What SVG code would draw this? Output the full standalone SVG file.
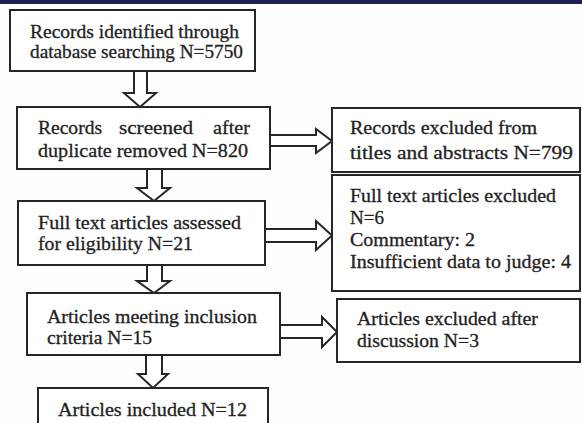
<svg xmlns="http://www.w3.org/2000/svg" width="582" height="423" viewBox="0 0 582 423">
<style>
.box{fill:#fff;stroke:#262626;stroke-width:2}
.arr{fill:#fff;stroke:#262626;stroke-width:2;stroke-linejoin:miter}
</style>
<rect x="0" y="0" width="582" height="423" fill="#fdfdfd"/>
<rect x="0" y="0" width="582" height="4" fill="#1c2150"/>
<g id="connectors">
<polygon class="arr" points="134,71 134,93 124,93 140,107 156,93 147,93 147,71"/>
<polygon class="arr" points="147,169 147,188 137,188 154,201 170,188 162,188 162,169"/>
<polygon class="arr" points="147,265 147,281 137,281 154,293 170,281 162,281 162,265"/>
<polygon class="arr" points="146,355 146,374 138,374 153,388 168,374 162,374 162,355"/>
<polygon class="arr" points="270,135 316,135 316,129 332,141 316,153 316,146 270,146"/>
<polygon class="arr" points="265,229 316,229 316,221 332,235.5 316,250 316,242 265,242"/>
<polygon class="arr" points="280,325 322,325 322,317 337,332 322,347 322,338 280,338"/>
</g>
<g font-family="Liberation Serif" font-size="19" fill="#222" stroke="#222" stroke-width="0.3">
<g id="n1">
<rect class="box" x="10" y="10" width="245" height="61"/>
<text x="30" y="38" textLength="209" lengthAdjust="spacingAndGlyphs">Records identified through</text>
<text x="30" y="58" textLength="213" lengthAdjust="spacingAndGlyphs">database searching N=5750</text>
</g>
<g id="n2">
<rect class="box" x="17" y="107" width="253" height="62"/>
<text x="38" y="134" textLength="64" lengthAdjust="spacingAndGlyphs">Records</text>
<text x="119" y="134" textLength="74" lengthAdjust="spacingAndGlyphs">screened</text>
<text x="213" y="134" textLength="37" lengthAdjust="spacingAndGlyphs">after</text>
<text x="38" y="157" textLength="210" lengthAdjust="spacingAndGlyphs">duplicate removed N=820</text>
</g>
<g id="n3">
<rect class="box" x="18" y="201" width="247" height="64"/>
<text x="38" y="229" textLength="203" lengthAdjust="spacingAndGlyphs">Full text articles assessed</text>
<text x="38" y="250" textLength="155" lengthAdjust="spacingAndGlyphs">for eligibility N=21</text>
</g>
<g id="n4">
<rect class="box" x="27" y="293" width="253" height="62"/>
<text x="47" y="323" textLength="210" lengthAdjust="spacingAndGlyphs">Articles meeting inclusion</text>
<text x="47" y="344" textLength="105" lengthAdjust="spacingAndGlyphs">criteria N=15</text>
</g>
<g id="n5">
<rect class="box" x="38" y="388" width="230" height="45"/>
<text x="58" y="416" textLength="189" lengthAdjust="spacingAndGlyphs">Articles included N=12</text>
</g>
<g id="r1">
<rect class="box" x="332" y="108" width="248" height="64"/>
<text x="350" y="134" textLength="187" lengthAdjust="spacingAndGlyphs">Records excluded from</text>
<text x="350" y="159" textLength="223" lengthAdjust="spacingAndGlyphs">titles and abstracts N=799</text>
</g>
<g id="r2">
<rect class="box" x="332" y="175" width="248" height="116"/>
<text x="350" y="202" textLength="206" lengthAdjust="spacingAndGlyphs">Full text articles excluded</text>
<text x="350" y="224" textLength="34" lengthAdjust="spacingAndGlyphs">N=6</text>
<text x="350" y="246" textLength="125" lengthAdjust="spacingAndGlyphs">Commentary: 2</text>
<text x="350" y="268" textLength="221" lengthAdjust="spacingAndGlyphs">Insufficient data to judge: 4</text>
</g>
<g id="r3">
<rect class="box" x="337" y="299" width="243" height="63"/>
<text x="357" y="325" textLength="181" lengthAdjust="spacingAndGlyphs">Articles excluded after</text>
<text x="357" y="347" textLength="122" lengthAdjust="spacingAndGlyphs">discussion N=3</text>
</g>
</g>
</svg>
